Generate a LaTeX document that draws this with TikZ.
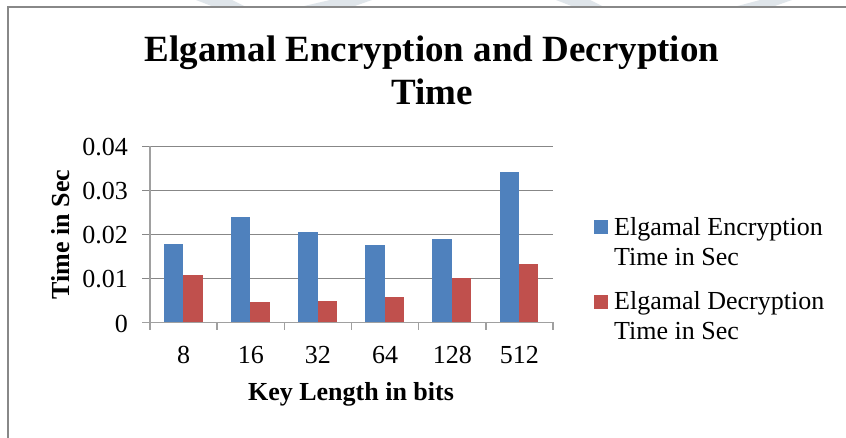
\documentclass[tikz,border=0pt]{standalone}
\usepackage{fontspec}
\setmainfont{Liberation Serif}
\definecolor{encblue}{HTML}{4F81BD}
\definecolor{decred}{HTML}{C0504D}
\definecolor{gridgray}{HTML}{878787}
\definecolor{axisgray}{HTML}{A0A0A0}
\definecolor{framegray}{HTML}{888888}
\definecolor{wmark}{HTML}{DFE5EA}
\begin{document}
\begin{tikzpicture}[x=1pt,y=-1pt,
  gridline/.style={draw=gridgray,line width=1.5pt},
  axisline/.style={draw=axisgray,line width=1.5pt},
  ticklab/.style={font=\fontsize{26}{30}\selectfont,inner sep=0pt},
  axtitle/.style={font=\fontsize{26}{30}\selectfont\bfseries,inner sep=0pt},
  titletext/.style={font=\fontsize{37}{43}\selectfont\bfseries,anchor=base,inner sep=0pt},
  legtext/.style={font=\fontsize{26}{30}\selectfont,inner sep=0pt,anchor=base west},
  encbar/.style={fill=encblue},
  decbar/.style={fill=decred}]
\useasboundingbox (0,0) rectangle (846,438);
\fill[white] (0,0) rectangle (846,438);
% faint watermark pieces at the top
\fill[wmark] (196,0) -- (232,0) -- (246,7) -- (214,7) -- cycle;
\fill[wmark] (330,0) -- (372,0) -- (352,7) -- (300,7) -- cycle;
\fill[wmark] (556,0) -- (590,0) -- (604,7) -- (574,7) -- cycle;
\fill[wmark] (760,0) -- (792,0) -- (772,7) -- (734,7) -- cycle;
% chart frame
\draw[framegray,line width=2pt] (7.5,438) -- (7.5,7.5) -- (846,7.5);
% title
\node[titletext] (title1) at (432,62) {Elgamal Encryption and Decryption};
\node[titletext] (title2) at (432,105) {Time};
% gridlines and value labels
\foreach \k/\lab in {0/0,1/0.01,2/0.02,3/0.03,4/0.04}{
  \coordinate (g\k) at (142,{322.5-44*\k});
  \coordinate (ge\k) at (553,{322.5-44*\k});
  \ifnum\k>0 \draw[gridline] (g\k) -- (ge\k); \fi
  \node[ticklab,anchor=base east] (yl\k) at (128,{322.5-44*\k+9.5}) {\lab};
}
% bars
\foreach \i/\lab/\e/\d in {0/8/0.0179/0.0107,1/16/0.0239/0.0046,2/32/0.0205/0.0048,3/64/0.0175/0.0058,4/128/0.0189/0.0101,5/512/0.0343/0.0132}{
  \fill[encbar] ({150+67.17*\i+13.8},322.5) rectangle ({150+67.17*\i+33.2},{322.5-\e*4400});
  \fill[decbar] ({150+67.17*\i+33.2},322.5) rectangle ({150+67.17*\i+52.6},{322.5-\d*4400});
  \node[ticklab,anchor=base] (xl\i) at ({150+67.17*\i+33.6},363) {\lab};
}
% axes
\coordinate (ax0) at (150,146.5);
\coordinate (ax1) at (150,322.5);
\draw[axisline] (ax0) -- (ax1);
\draw[axisline] (g0) -- (ge0);
\foreach \i in {0,...,6}{
  \coordinate (t\i) at ({150+67.17*\i},322.5);
  \draw[axisline] (t\i) -- ++(0,8);
}
% axis titles
\node[axtitle,anchor=base] (xtitle) at (351,400) {Key Length in bits};
\node[axtitle,rotate=90,anchor=base] (ytitle) at (69,234.5) {Time in Sec};
% legend
\fill[encblue] (594,220) rectangle (608,234);
\node[legtext] (leg1a) at (614,236) {Elgamal Encryption};
\node[legtext] (leg1b) at (614,266) {Time in Sec};
\fill[decred] (594,295) rectangle (608,309);
\node[legtext] (leg2a) at (614,310) {Elgamal Decryption};
\node[legtext] (leg2b) at (614,340) {Time in Sec};
\end{tikzpicture}
\end{document}
